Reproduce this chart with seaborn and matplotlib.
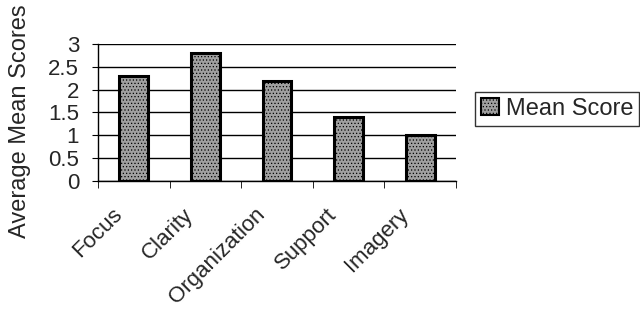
import matplotlib
matplotlib.use('Agg')
import matplotlib.pyplot as plt
import matplotlib.transforms as mtransforms
from matplotlib.patches import Patch
import pandas as pd
import seaborn as sns

categories = ['Focus', 'Clarity', 'Organization', 'Support', 'Imagery']
mean_scores = [2.3, 2.8, 2.2, 1.4, 1.0]
yticks = [0, 0.5, 1, 1.5, 2, 2.5, 3]
ytick_labels = ['0', '0.5', '1', '1.5', '2', '2.5', '3']
series_name = 'Mean Score'

df = pd.DataFrame({'category': categories, 'score': mean_scores, 'series': series_name})

sns.set_style('white')
plt.rcParams['font.family'] = ['Liberation Sans', 'DejaVu Sans']
plt.rcParams['hatch.color'] = '#505050'
plt.rcParams['hatch.linewidth'] = 0.5

fig = plt.figure(figsize=(6.4, 3.12), dpi=100)
ax = fig.add_axes([0.153, 0.42, 0.5595, 0.439])

sns.barplot(df, x='category', y='score', hue='series', palette=['#a0a0a0'],
            width=0.4, edgecolor='black', linewidth=2.2, ax=ax, legend=False)
for p in ax.patches:
    p.set_hatch('.....')
    p.set_zorder(3)

ax.set_ylim(0, 3)
ax.set_xlim(-0.5, len(categories) - 0.5)
ax.set_yticks(yticks)
ax.set_yticklabels(ytick_labels, fontsize=16)
ax.yaxis.grid(True, color='black', linewidth=1)
ax.set_axisbelow(True)

# category labels, rotated, ticks drawn at the category boundaries
ax.set_xticks(range(len(categories)))
ax.set_xticklabels(categories, rotation=45, ha='right', va='center',
                   rotation_mode='anchor', fontsize=16)
ax.tick_params(axis='x', length=0, pad=22)
shift = mtransforms.ScaledTranslation(-0.15, 0, fig.dpi_scale_trans)
for lab in ax.get_xticklabels():
    lab.set_transform(lab.get_transform() + shift)
ax.set_xticks([i - 0.5 for i in range(len(categories) + 1)], minor=True)
ax.tick_params(axis='x', which='minor', length=5, direction='out', color='black', bottom=True)
ax.tick_params(axis='y', length=4.5, left=True, color='black', pad=9)

for s in ['top', 'right']:
    ax.spines[s].set_visible(False)
for s in ['left', 'bottom']:
    ax.spines[s].set_color('black')
    ax.spines[s].set_linewidth(1)

ax.set_xlabel('')
ax.set_ylabel('')
fig.text(20 / 640, 1 - 121 / 312, 'Average Mean Scores', rotation=90,
         ha='center', va='center', fontsize=17)

handle = Patch(facecolor='#a0a0a0', edgecolor='black', hatch='.....', linewidth=1.5)
fig.legend([handle], [series_name], loc='upper left', bbox_to_anchor=(475 / 640, 1 - 92 / 312),
           frameon=True, fancybox=False, edgecolor='black', fontsize=17,
           handlelength=0.75, handleheight=0.75, handletextpad=0.3, borderpad=0.25,
           borderaxespad=0)

fig.savefig('out.png', dpi=100)
